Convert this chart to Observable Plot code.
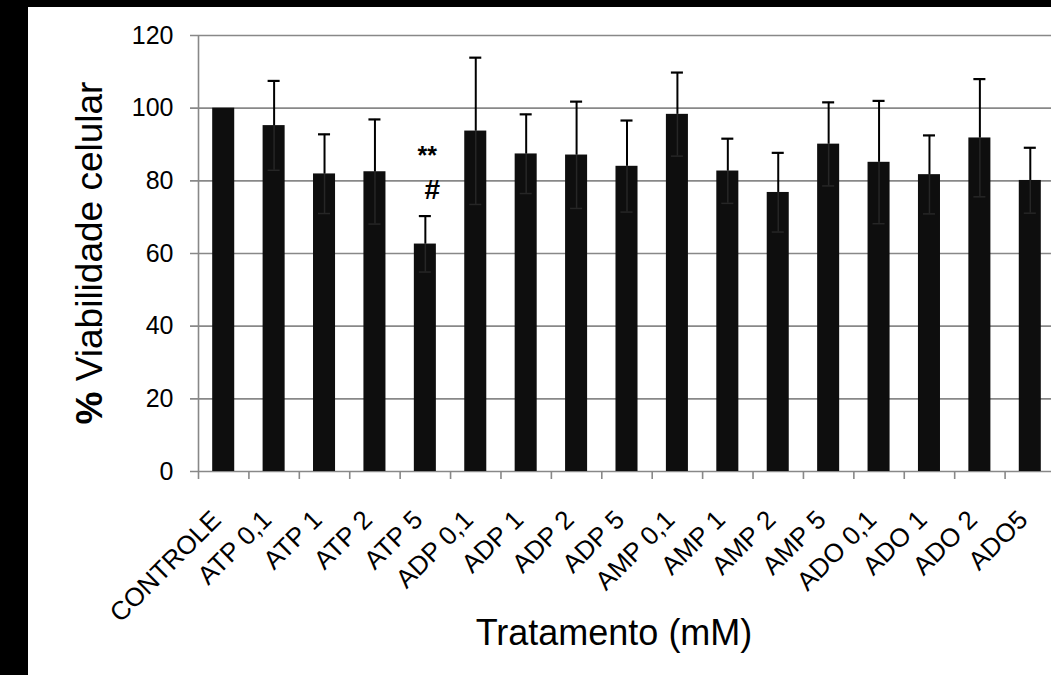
<!DOCTYPE html>
<html>
<head>
<meta charset="utf-8">
<script src="https://cdn.jsdelivr.net/npm/d3@7"></script>
<script src="https://cdn.jsdelivr.net/npm/@observablehq/plot@0.6"></script>
<style>
html, body { margin: 0; padding: 0; background: #000; width: 1051px; height: 675px; overflow: hidden; }
#chart { position: absolute; left: 28px; top: 7px; width: 1023px; height: 668px; background: #fff; overflow: hidden; }
#chart svg { display: block; }
</style>
</head>
<body>
<div id="chart"></div>
<script>
// ---- data ----
const categories = ["CONTROLE", "ATP 0,1", "ATP 1", "ATP 2", "ATP 5", "ADP 0,1", "ADP 1", "ADP 2", "ADP 5", "AMP 0,1", "AMP 1", "AMP 2", "AMP 5", "ADO 0,1", "ADO 1", "ADO 2", "ADO5"];
const means = [100, 95.2, 81.9, 82.5, 62.6, 93.7, 87.4, 87.1, 84.0, 98.3, 82.7, 76.8, 90.1, 85.1, 81.7, 91.8, 80.1];
const sds = [0, 12.3, 10.9, 14.4, 7.7, 20.2, 10.9, 14.7, 12.6, 11.5, 8.9, 10.9, 11.5, 16.9, 10.8, 16.2, 9.0];
const yTicks = [0, 20, 40, 60, 80, 100, 120];
const starLabel = "**";
const starCategory = "ATP 5";
const starValue = 86.9;
const hashLabel = "#";
const hashCategory = "ATP 5";
const hashValue = 77.6;
const yLabelPrefix = "%";
const yLabelText = " Viabilidade celular";
const xTitle = "Tratamento (mM)";

// ---- layout ----
const W = 1023, H = 668;
const mLeft = 170, mRight = -4, mTop = 28, mBottom = 204;
const step = (W - mLeft - mRight) / categories.length;
const grid = "#888888";
const font = "'Liberation Sans', Arial, Helvetica, sans-serif";

const rows = categories.map((c, i) => ({cat: c, mean: means[i], sd: sds[i]}));
const errRows = rows.filter(d => d.sd > 0);

const chart = Plot.plot({
  width: W,
  height: H,
  marginLeft: mLeft,
  marginRight: mRight,
  marginTop: mTop,
  marginBottom: mBottom,
  style: {fontFamily: font, fontSize: "25px", color: "#000", background: "transparent"},
  x: {domain: categories, paddingInner: 0.563, paddingOuter: 0.2815, align: 0.5, round: false, axis: null},
  y: {domain: [yTicks[0], yTicks[yTicks.length - 1]], axis: null},
  marks: [
    // horizontal gridlines (extend left as tick marks)
    Plot.ruleY(yTicks, {y: d => d, insetLeft: -8, stroke: grid, strokeWidth: 1.6}),
    // y axis line
    Plot.ruleX([categories[0]], {x: d => d, dx: -step / 2, y1: yTicks[0], y2: yTicks[yTicks.length - 1], stroke: grid, strokeWidth: 1.6}),
    // category boundary ticks
    Plot.ruleX(categories, {x: d => d, dx: -step / 2, y1: 0, y2: 0, insetBottom: -8, stroke: grid, strokeWidth: 1.6}),
    // bars
    Plot.barY(rows, {x: "cat", y: "mean", fill: "#0e0e0e"}),
    // lower error parts (inside bar)
    Plot.ruleX(errRows, {x: "cat", y1: d => d.mean - d.sd, y2: "mean", stroke: "#262626", strokeWidth: 1.5}),
    Plot.tickY(errRows, {x: "cat", y: d => d.mean - d.sd, insetLeft: 5, insetRight: 5, stroke: "#262626", strokeWidth: 1.5}),
    // upper error parts
    Plot.ruleX(errRows, {x: "cat", y1: "mean", y2: d => d.mean + d.sd, stroke: "#000", strokeWidth: 2}),
    Plot.tickY(errRows, {x: "cat", y: d => d.mean + d.sd, insetLeft: 5, insetRight: 5, stroke: "#000", strokeWidth: 2.2}),
    // significance marks
    Plot.text([starLabel], {x: () => starCategory, y: () => starValue, text: d => d, fontWeight: "bold", fontSize: 25, dx: 2, fill: "#000"}),
    Plot.text([hashLabel], {x: () => hashCategory, y: () => hashValue, text: d => d, fontWeight: "bold", fontSize: 28, dx: 7, fill: "#000"}),
    // y tick labels
    Plot.axisY({ticks: yTicks, tickSize: 0, tickPadding: 25, label: null, fontSize: 25, fill: "#000"}),
    // x tick labels, rotated
    Plot.text(categories, {x: d => d, text: d => d, frameAnchor: "bottom", rotate: -45, textAnchor: "end", lineAnchor: "middle", dx: -7, dy: 44, fontSize: 26, fill: "#000"})
  ]
});

const svg = d3.select(chart);
// y axis title
const yl = svg.append("text")
  .attr("transform", "translate(74,246) rotate(-90)")
  .attr("text-anchor", "middle")
  .attr("font-family", font)
  .attr("font-size", 37)
  .attr("fill", "#000");
yl.append("tspan").attr("font-weight", "bold").text(yLabelPrefix);
yl.append("tspan").text(yLabelText);
// x axis title
svg.append("text")
  .attr("x", 586)
  .attr("y", 638)
  .attr("text-anchor", "middle")
  .attr("font-family", font)
  .attr("font-size", 36)
  .attr("fill", "#000")
  .text(xTitle);

document.getElementById("chart").appendChild(chart);
</script>
</body>
</html>
